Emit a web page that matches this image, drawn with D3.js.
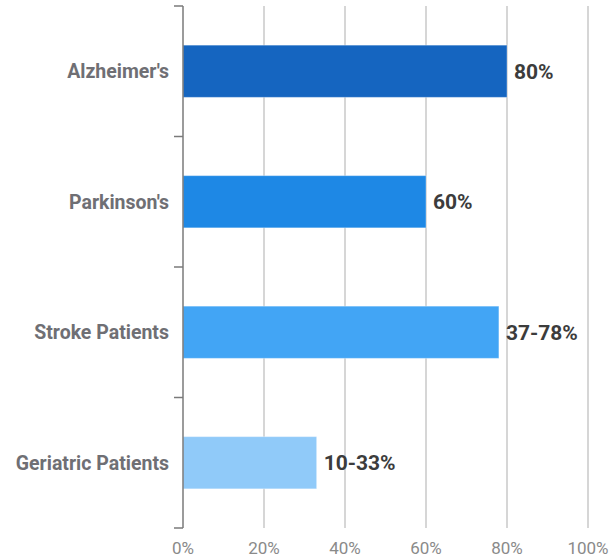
<!DOCTYPE html>
<html><head><meta charset="utf-8">
<script src="https://cdn.jsdelivr.net/npm/d3@7"></script>
<style>html,body{margin:0;padding:0;background:#fff;}svg{display:block;}</style>
</head><body>
<svg id="chart" width="616" height="557"></svg>
<script>
const categories = ["Alzheimer's", "Parkinson's", "Stroke Patients", "Geriatric Patients"];
const values = [80, 60, 78, 33];
const valueLabels = ["80%", "60%", "37-78%", "10-33%"];
const barColors = ["#1565C0", "#1E88E5", "#42A5F5", "#90CAF9"];
const xTicks = [0, 20, 40, 60, 80, 100];

const svg = d3.select("#chart");
const mLeft = 183, mRight = 588, mTop = 6, mBottom = 528;
const x = d3.scaleLinear().domain([0, 100]).range([mLeft, mRight]);
const y = d3.scaleBand().domain(categories).range([mTop, mBottom]).paddingInner(0.6).paddingOuter(0.3);

// gridlines
svg.append("g").selectAll("line").data(xTicks.slice(1)).join("line")
  .attr("x1", d => x(d)).attr("x2", d => x(d))
  .attr("y1", mTop).attr("y2", mBottom)
  .attr("stroke", "#c8c8c8").attr("stroke-width", 1.5);

// bars
svg.append("g").selectAll("rect").data(categories).join("rect")
  .attr("x", x(0)).attr("y", d => y(d))
  .attr("width", (d, i) => x(values[i]) - x(0))
  .attr("height", y.bandwidth())
  .attr("fill", (d, i) => barColors[i])
  .attr("stroke", "rgba(255,255,255,0.35)").attr("stroke-width", 1);

// y axis line and boundary ticks
const boundaries = d3.range(categories.length + 1).map(i => mTop + i * (mBottom - mTop) / categories.length);
svg.append("line").attr("x1", mLeft).attr("x2", mLeft).attr("y1", mTop).attr("y2", mBottom)
  .attr("stroke", "#7a7a7a").attr("stroke-width", 1.5);
svg.append("g").selectAll("line").data(boundaries).join("line")
  .attr("x1", mLeft - 9).attr("x2", mLeft).attr("y1", d => d).attr("y2", d => d)
  .attr("stroke", "#7a7a7a").attr("stroke-width", 1.5);

// category labels
svg.append("g").selectAll("text").data(categories).join("text")
  .attr("x", 169).attr("y", d => y(d) + y.bandwidth() / 2)
  .attr("dy", "0.35em").attr("text-anchor", "end")
  .attr("font-family", "Roboto, sans-serif").attr("font-weight", 700)
  .attr("font-size", 19.5).attr("fill", "#6f6f74")
  .text(d => d);

// value labels
svg.append("g").selectAll("text").data(categories).join("text")
  .attr("x", (d, i) => x(values[i]) + 7).attr("y", d => y(d) + y.bandwidth() / 2)
  .attr("dy", "0.35em").attr("text-anchor", "start")
  .attr("font-family", "Roboto, sans-serif").attr("font-weight", 700)
  .attr("font-size", 21).attr("fill", "#3c3c3c")
  .text((d, i) => valueLabels[i]);

// x tick labels
svg.append("g").selectAll("text").data(xTicks).join("text")
  .attr("x", d => x(d)).attr("y", 554)
  .attr("text-anchor", "middle")
  .attr("font-family", "Roboto, sans-serif").attr("font-size", 17).attr("fill", "#8a8a8a")
  .text(d => d + "%");
</script>
</body></html>
